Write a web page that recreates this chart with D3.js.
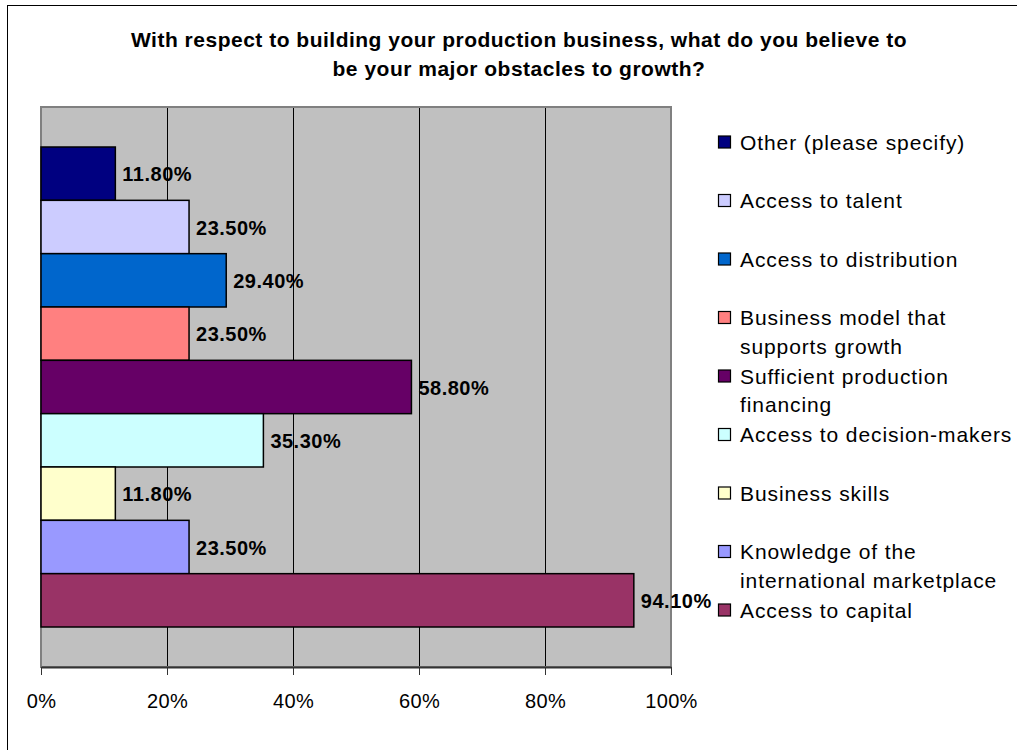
<!DOCTYPE html>
<html>
<head>
<meta charset="utf-8">
<script src="https://cdn.jsdelivr.net/npm/d3@7"></script>
<style>
  html, body { margin: 0; padding: 0; background: #fff; }
  svg { display: block; font-family: "Liberation Sans", Arial, sans-serif; }
</style>
</head>
<body>
<svg id="chart" width="1017" height="750"></svg>
<script>
// Survey answers, listed top to bottom as the bars are drawn
const categories = [
  "Other (please specify)",
  "Access to talent",
  "Access to distribution",
  "Business model that\nsupports growth",
  "Sufficient production\nfinancing",
  "Access to decision-makers",
  "Business skills",
  "Knowledge of the\ninternational marketplace",
  "Access to capital"
];
const values = [11.8, 23.5, 29.4, 23.5, 58.8, 35.3, 11.8, 23.5, 94.1];
const colors = ["#000080", "#CCCCFF", "#0066CC", "#FF8080", "#660066",
                "#CCFFFF", "#FFFFCC", "#9999FF", "#993366"];
const xTicks = [0, 20, 40, 60, 80, 100];
const titleLines = [
  "With respect to building your production business, what do you believe to",
  "be your major obstacles to growth?"
];

const svg = d3.select("#chart");

// outer chart frame (runs off the right and bottom edges)
svg.append("rect")
  .attr("x", 7.5).attr("y", 5.5)
  .attr("width", 1100).attr("height", 900)
  .attr("fill", "#fff").attr("stroke", "#000").attr("stroke-width", 1);

// title
svg.append("g").selectAll("text").data(titleLines).join("text")
  .attr("x", 519)
  .attr("y", (d, i) => 47 + i * 28.5)
  .attr("text-anchor", "middle")
  .attr("font-weight", "bold")
  .attr("font-size", 21)
  .attr("letter-spacing", 0.5)
  .attr("fill", "#000")
  .text(d => d);

const plot = { left: 41, right: 671, top: 107, bottom: 667 };

const x = d3.scaleLinear().domain([0, 100]).range([plot.left, plot.right]);
const y = d3.scaleBand().domain(categories)
  .range([plot.top, plot.bottom]).paddingInner(0).paddingOuter(0.75);

// plot background
svg.append("rect")
  .attr("x", plot.left).attr("y", plot.top)
  .attr("width", plot.right - plot.left).attr("height", plot.bottom - plot.top)
  .attr("fill", "#C0C0C0");

// vertical gridlines
svg.append("g").selectAll("line").data(xTicks.slice(1, -1)).join("line")
  .attr("x1", d => x(d)).attr("x2", d => x(d))
  .attr("y1", plot.top).attr("y2", plot.bottom)
  .attr("stroke", "#000").attr("stroke-width", 1).attr("shape-rendering", "crispEdges");

// plot border
svg.append("rect")
  .attr("x", plot.left).attr("y", plot.top)
  .attr("width", plot.right - plot.left).attr("height", plot.bottom - plot.top)
  .attr("fill", "none").attr("stroke", "#808080").attr("stroke-width", 2);

// bars
svg.append("g").selectAll("rect").data(categories).join("rect")
  .attr("x", x(0))
  .attr("y", d => y(d))
  .attr("width", (d, i) => x(values[i]) - x(0))
  .attr("height", y.bandwidth())
  .attr("fill", (d, i) => colors[i])
  .attr("stroke", "#000").attr("stroke-width", 1.5);

// value labels
svg.append("g").selectAll("text").data(categories).join("text")
  .attr("x", (d, i) => x(values[i]) + 7)
  .attr("y", d => y(d) + y.bandwidth() / 2 + 7.5)
  .attr("font-weight", "bold")
  .attr("font-size", 20)
  .attr("letter-spacing", 0.5)
  .attr("fill", "#000")
  .text((d, i) => values[i].toFixed(2) + "%");

// x axis
const axis = svg.append("g")
  .attr("transform", `translate(0,${plot.bottom})`)
  .call(d3.axisBottom(x).tickValues(xTicks).tickFormat(d => d + "%")
    .tickSizeInner(8).tickSizeOuter(0).tickPadding(19));
axis.select(".domain").attr("stroke", "#333").attr("stroke-width", 2);
axis.selectAll(".tick line").attr("stroke", "#333");
axis.selectAll(".tick text")
  .attr("font-family", "'Liberation Sans', Arial, sans-serif")
  .attr("font-size", 20).attr("letter-spacing", 0.3).attr("fill", "#000");

// legend
const legend = svg.append("g").attr("transform", "translate(718,142)");
const item = legend.selectAll("g").data(categories).join("g")
  .attr("transform", (d, i) => `translate(0,${i * 58.5})`);
item.append("rect")
  .attr("x", 0.5).attr("y", -6)
  .attr("width", 12).attr("height", 12)
  .attr("fill", (d, i) => colors[i])
  .attr("stroke", "#000").attr("stroke-width", 1.2);
item.append("text")
  .attr("x", 22).attr("y", 7.5)
  .attr("font-size", 21).attr("letter-spacing", 0.9).attr("fill", "#000")
  .selectAll("tspan").data(d => d.split("\n")).join("tspan")
  .attr("x", 22).attr("dy", (d, i) => i === 0 ? 0 : 28.5)
  .text(d => d);
</script>
</body>
</html>
